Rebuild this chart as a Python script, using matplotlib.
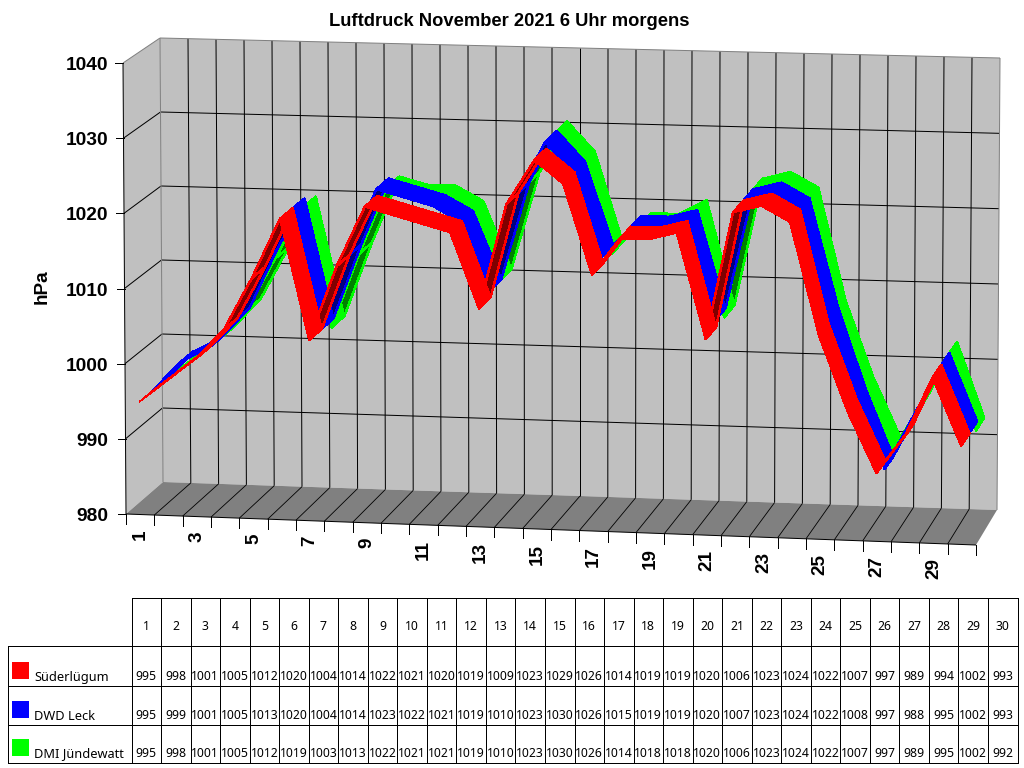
import numpy as np
import matplotlib
matplotlib.use("Agg")
import matplotlib.pyplot as plt
from matplotlib.patches import Polygon, Rectangle

TITLE = "Luftdruck November 2021 6 Uhr morgens"
DAYS = list(range(1, 31))
SUEDERLUEGUM = [995, 998, 1001, 1005, 1012, 1020, 1004, 1014, 1022, 1021, 1020, 1019, 1009, 1023, 1029,
                1026, 1014, 1019, 1019, 1020, 1006, 1023, 1024, 1022, 1007, 997, 989, 994, 1002, 993]
DWD_LECK = [995, 999, 1001, 1005, 1013, 1020, 1004, 1014, 1023, 1022, 1021, 1019, 1010, 1023, 1030,
            1026, 1015, 1019, 1019, 1020, 1007, 1023, 1024, 1022, 1008, 997, 988, 995, 1002, 993]
DMI_JUENDEWATT = [995, 998, 1001, 1005, 1012, 1019, 1003, 1013, 1022, 1021, 1021, 1019, 1010, 1023, 1030,
                  1026, 1014, 1018, 1018, 1020, 1006, 1023, 1024, 1022, 1007, 997, 989, 995, 1002, 992]
SERIES_NAMES = ["Süderlügum", "DWD Leck", "DMI Jündewatt"]
SERIES_VALUES = [SUEDERLUEGUM, DWD_LECK, DMI_JUENDEWATT]
SERIES_COLORS = ["#ff0000", "#0000ff", "#00ff00"]
SERIES_SHADES = ["#800000", "#000080", "#008000"]
Y_TICKS = [980, 990, 1000, 1010, 1020, 1030, 1040]

# Corners of the 3D box in figure pixels
FBL, FBR = np.array([126.0, 514.0]), np.array([976.0, 545.0])
FTL, FTR = np.array([123.0, 63.0]), np.array([973.0, 93.0])
BBL, BBR = np.array([163.0, 482.0]), np.array([997.0, 510.0])
BTL, BTR = np.array([160.0, 38.0]), np.array([1000.0, 58.0])
Y_MIN, Y_MAX = 980.0, 1040.0
N = len(DAYS)
LW = 0.72  # one device pixel at 100 dpi


def project(u, hpa, w):
    """Map category position u, pressure and depth w (0 front, 1 back) to pixels."""
    a, b = u / N, (hpa - Y_MIN) / (Y_MAX - Y_MIN)
    front = (1 - b) * ((1 - a) * FBL + a * FBR) + b * ((1 - a) * FTL + a * FTR)
    back = (1 - b) * ((1 - a) * BBL + a * BBR) + b * ((1 - a) * BTL + a * BTR)
    return (1 - w) * front + w * back


def signed_area(pts):
    x, y = np.asarray(pts).T
    return 0.5 * np.sum(x * np.roll(y, -1) - np.roll(x, -1) * y)


fig = plt.figure(figsize=(10.24, 7.68), dpi=100, facecolor="white")
ax = fig.add_axes([0, 0, 1, 1])
ax.set_xlim(0, 1024)
ax.set_ylim(768, 0)
ax.axis("off")


def seg(p, q, color="black", lw=LW, z=2, smooth=False):
    ax.plot([p[0], q[0]], [p[1], q[1]], color=color, lw=lw, solid_capstyle="butt",
            antialiased=smooth, zorder=z)


# Walls and floor
ax.add_patch(Polygon([BBL, BBR, BTR, BTL], fc="#c0c0c0", ec="none", zorder=1))
ax.add_patch(Polygon([FBL, BBL, BTL, FTL], fc="#c0c0c0", ec="none", zorder=1))
ax.add_patch(Polygon([FBL, FBR, BBR, BBL], fc="#808080", ec="none", zorder=1))

# Grid on the back wall, the side wall and the floor
for tick in Y_TICKS[1:-1]:
    seg(project(0, tick, 0), project(0, tick, 1), smooth=True)
    seg(project(0, tick, 1), project(N, tick, 1), smooth=True)
for i in range(1, N):
    seg(project(i, Y_MIN, 1), project(i, Y_MAX, 1), smooth=True)
    seg(project(i, Y_MIN, 0), project(i, Y_MIN, 1), lw=0.6, smooth=True)

# Box outline
seg(BBL, BTL, "#808080", z=2.5, smooth=True)
seg(BTL, BTR, "#808080", z=2.5, smooth=True)
seg(BTR, BBR, "#808080", z=2.5, smooth=True)
seg(FTL, BTL, "#808080", z=2.5, smooth=True)
seg(FBL, FTL, z=2.5, smooth=True)
seg(FBL, FBR, z=2.5, smooth=True)

# Axis ticks and labels
for tick in Y_TICKS:
    p = project(0, tick, 0)
    seg(p, p + np.array([-8, 0]))
    ax.text(108, p[1] + 2.5, str(tick), ha="right", va="center", fontsize=13.8,
            fontweight="bold", family="Liberation Sans")
for i in range(N + 1):
    p = project(i, Y_MIN, 0)
    seg(p, p + np.array([0, 10]))
for i, day in enumerate(DAYS):
    if day % 2:
        p = project(i + 0.5, Y_MIN, 0)
        ax.text(p[0], p[1] + 15, str(day), rotation=90, ha="center", va="top", fontsize=13.6,
                fontweight="bold", family="Liberation Sans")

ax.text(42, 287, "hPa", rotation=90, ha="center", va="center", fontsize=13.6,
        fontweight="bold", family="Liberation Sans")
ax.text(509, 21, TITLE, ha="center", va="center", fontsize=13.2, fontweight="bold",
        family="Liberation Sans")

# Ribbons, drawn from the rear series to the front one; neighbouring bands overlap in depth
BAND_FRONTS = [0.0, 0.34, 0.66]
BAND_DEPTH = 0.38
for s in reversed(range(len(SERIES_VALUES))):
    vals = SERIES_VALUES[s]
    w0, w1 = BAND_FRONTS[s], BAND_FRONTS[s] + BAND_DEPTH
    base = 3 + (2 - s) * 0.5
    quads = []
    for i in range(N - 1):
        u0, u1 = i + 0.5, i + 1.5
        quads.append([project(u0, vals[i], w0), project(u1, vals[i + 1], w0),
                      project(u1, vals[i + 1], w1), project(u0, vals[i], w1)])
    for quad in quads:
        if signed_area(quad) > 0:
            ax.add_patch(Polygon(quad, fc=SERIES_SHADES[s], ec=SERIES_COLORS[s], lw=1.0,
                                 antialiased=False, zorder=base))
    for quad in quads:
        if signed_area(quad) <= 0:
            ax.add_patch(Polygon(quad, fc=SERIES_COLORS[s], ec=SERIES_COLORS[s], lw=0.5,
                                 antialiased=False, zorder=base + 0.1))

# Data table
TABLE_FONT = "Noto Sans"
COL_X = np.linspace(131.5, 1017.5, N + 1)
ROW_Y = [597.5, 645.5, 685.5, 724.5, 762.5]
seg((COL_X[0], ROW_Y[0]), (COL_X[-1], ROW_Y[0]), z=5)
for y in ROW_Y[1:]:
    seg((7.5, y), (COL_X[-1], y), z=5)
seg((7.5, ROW_Y[1]), (7.5, ROW_Y[-1]), z=5)
for x in COL_X:
    seg((x, ROW_Y[0]), (x, ROW_Y[-1]), z=5)
for i, day in enumerate(DAYS):
    xc = 0.5 * (COL_X[i] + COL_X[i + 1])
    ax.text(xc, 627, str(day), ha="center", va="center", fontsize=8.8, family=TABLE_FONT)
    for r, vals in enumerate(SERIES_VALUES):
        ax.text(xc, ROW_Y[r + 2] - 9, str(vals[i]), ha="center", va="center", fontsize=8.8,
                family=TABLE_FONT)
for r, (name, color) in enumerate(zip(SERIES_NAMES, SERIES_COLORS)):
    y = ROW_Y[r + 2]
    ax.add_patch(Rectangle((12, y - 23.5), 16.5, 16.5, fc=color, ec="none", zorder=5))
    ax.text(34, y - 8.5, name, ha="left", va="center", fontsize=9.2, family=TABLE_FONT)

fig.savefig("out.png", dpi=100, facecolor="white")
